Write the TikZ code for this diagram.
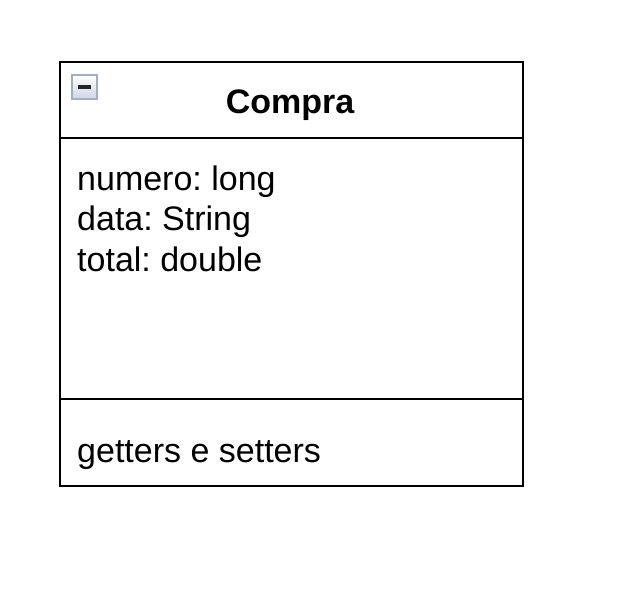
\documentclass[tikz,border=0pt]{standalone}
\usepackage{fontspec}
\setmainfont{Liberation Sans}
\usetikzlibrary{positioning}
\definecolor{iconedge}{RGB}{160,175,195}
\definecolor{iconfill}{RGB}{205,215,228}
\frenchspacing
\begin{document}
\begin{tikzpicture}[x=1pt, y=-1pt,
    classline/.style={draw=black, line width=2pt},
    member/.style={anchor=base west, inner sep=0pt, font=\fontsize{34}{41}\selectfont}]
    \useasboundingbox (0,0) rectangle (626,604);

    % Class box
    \coordinate (topleft) at (60,62);
    \coordinate (botright) at (523,486);
    \draw[classline] (topleft) rectangle (botright);
    \draw[classline] (60,138) -- (523,138);
    \draw[classline] (60,399) -- (523,399);

    % Collapse icon
    \draw[iconedge, top color=white, bottom color=iconfill, line width=1.5pt] (72,75) rectangle (97,99);
    \draw[black!85, line width=3.5pt] (78,87) -- (91,87);

    % Name
    \node[anchor=base, inner sep=0pt, font=\fontsize{34}{41}\selectfont\bfseries] (name) at (290,114) {Compra};

    % Attributes
    \node[member] (numero) at (77,190) {numero: long};
    \node[member] (data) at (77,230) {data: String};
    \node[member] (total) at (77,271) {total: double};

    % Methods
    \node[member] (methods) at (77,462) {getters e setters};
\end{tikzpicture}
\end{document}
